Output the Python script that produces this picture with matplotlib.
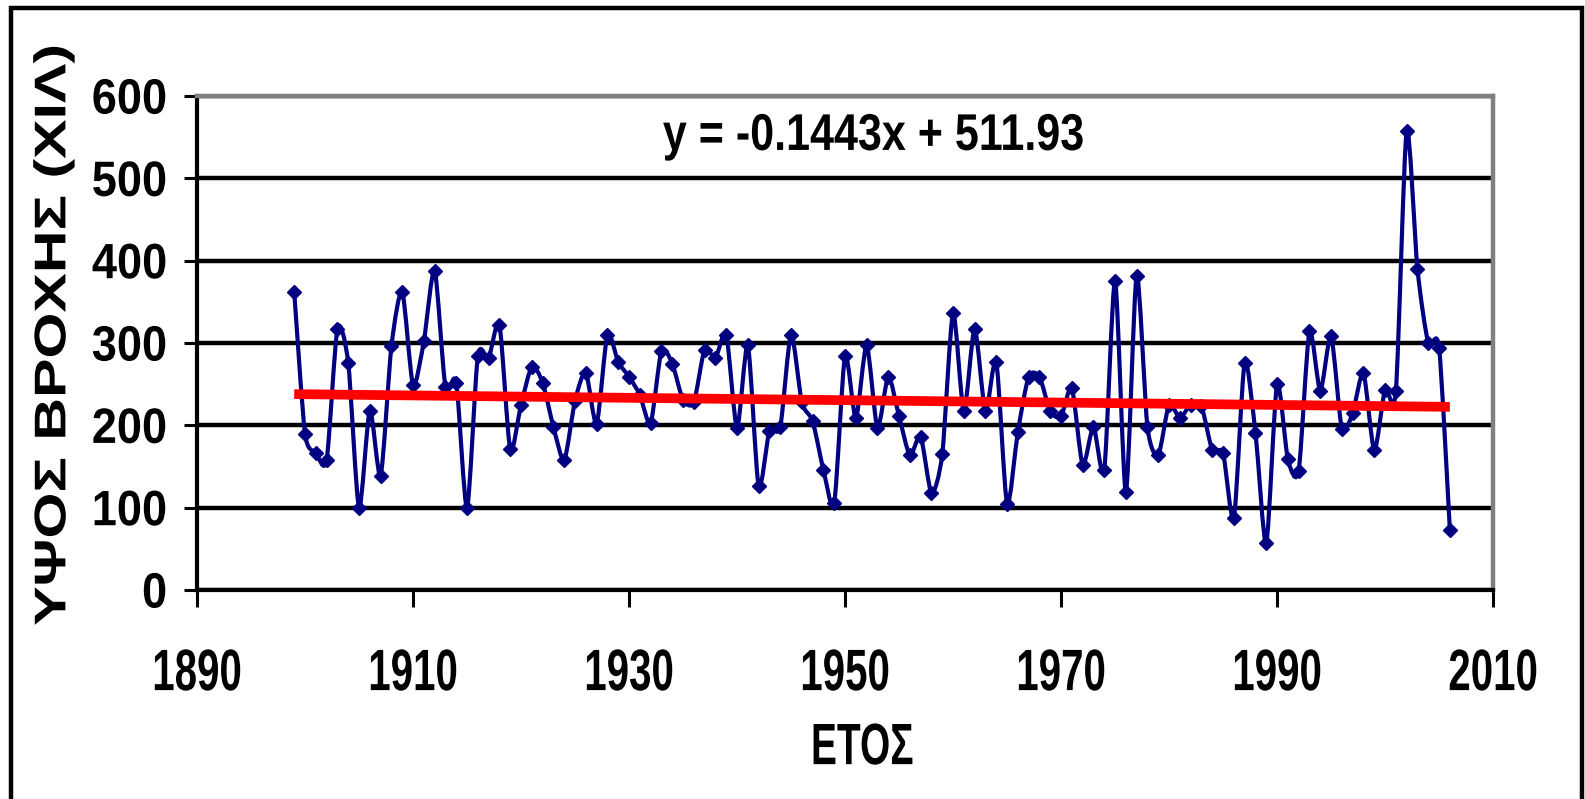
import numpy as np
import matplotlib
matplotlib.use("Agg")
import matplotlib.pyplot as plt
from matplotlib.path import Path
from matplotlib.patches import PathPatch, Rectangle
from matplotlib.patheffects import AbstractPathEffect
from matplotlib.transforms import Affine2D

# yearly rainfall
years = np.arange(1899, 2007)
rain = [362, 190, 167, 158, 317, 276, 100, 218, 139, 296,
        362, 249, 302, 388, 247, 252, 100, 284, 282, 322,
        171, 225, 271, 252, 198, 158, 230, 264, 202, 310,
        277, 259, 237, 203, 290, 275, 231, 228, 292, 282,
        310, 197, 297, 126, 193, 198, 310, 228, 205, 146,
        106, 284, 209, 297, 197, 259, 211, 164, 186, 118,
        165, 336, 217, 317, 217, 277, 105, 192, 259, 259,
        217, 211, 245, 152, 198, 146, 375, 119, 382, 198,
        164, 225, 209, 225, 223, 170, 166, 87, 276, 191,
        57, 250, 159, 145, 314, 242, 308, 196, 215, 263,
        170, 243, 242, 558, 390, 300, 294, 73]

slope = -0.1443
intercept = 511.93
trend = intercept + slope * years

x_ticks = [1890, 1910, 1930, 1950, 1970, 1990, 2010]
y_ticks = [0, 100, 200, 300, 400, 500, 600]

navy = "#000080"
fam = ["Liberation Sans", "DejaVu Sans"]


class Stretch(AbstractPathEffect):
    """stretch the glyphs vertically around their centre (the excel chart
    was pasted stretched, so its lettering is tall and narrow)"""

    def __init__(self, sy):
        super().__init__()
        self.sy = sy

    def draw_path(self, renderer, gc, tpath, affine, rgbFace=None):
        ext = tpath.get_extents(affine)
        cy = (ext.y0 + ext.y1) / 2
        st = affine + Affine2D().translate(0, -cy).scale(1, self.sy).translate(0, cy)
        renderer.draw_path(gc, tpath, st, rgbFace)


fig = plt.figure(figsize=(15.85, 7.99), dpi=100)
ax = fig.add_axes([0.1243, 0.2616, 0.9420 - 0.1243, 0.8798 - 0.2616])

ax.set_xlim(1890, 2010)
ax.set_ylim(0, 600)
ax.set_xticks(x_ticks)
ax.set_yticks(y_ticks)

ax.yaxis.grid(True, color="black", lw=3.2)
ax.set_axisbelow(True)

for s in ["left", "bottom"]:
    ax.spines[s].set_color("black")
    ax.spines[s].set_linewidth(3.0)
for s in ["top", "right"]:
    ax.spines[s].set_color("#808080")
    ax.spines[s].set_linewidth(3.2)

# smoothed line (excel style), drawn as bezier path through the points
pts = np.column_stack([years, rain]).astype(float)
n = len(pts)
verts = [pts[0]]
codes = [Path.MOVETO]
k = 1 / 8
for i in range(n - 1):
    p0 = pts[max(i - 1, 0)]
    p1 = pts[i]
    p2 = pts[i + 1]
    p3 = pts[min(i + 2, n - 1)]
    verts += [p1 + (p2 - p0) * k, p2 - (p3 - p1) * k, p2]
    codes += [Path.CURVE4] * 3
ax.add_patch(PathPatch(Path(verts, codes), facecolor="none", edgecolor=navy,
                       lw=3.0, zorder=3))
ax.plot(years, rain, "D", ms=7.5, color=navy, zorder=4)

ax.plot(years, trend, color="red", lw=7, solid_capstyle="butt", zorder=5)

ax.tick_params(axis="y", direction="out", length=9.5, width=2.2, pad=12)
ax.tick_params(axis="x", direction="out", length=12, width=2.2, pad=34)
for lab in ax.get_yticklabels():
    lab.set_family(fam)
    lab.set_fontweight("bold")
    lab.set_fontsize(32.5)
    lab.set_path_effects([Stretch(1.1)])
for lab in ax.get_xticklabels():
    lab.set_family(fam)
    lab.set_fontweight("bold")
    lab.set_fontsize(29)
    lab.set_path_effects([Stretch(1.45)])

fig.text(0.551, 0.815, "y = -0.1443x + 511.93", ha="center", va="baseline",
         family=fam, fontweight="bold", fontsize=31,
         path_effects=[Stretch(1.2)])
fig.text(0.544, 0.052, "ΕΤΟΣ", ha="center", va="baseline",
         family=fam, fontweight="bold", fontsize=28,
         path_effects=[Stretch(1.5)])
fig.text(0.034, 0.581, "ΥΨΟΣ ΒΡΟΧΗΣ (ΧΙΛ)", ha="center", va="center",
         rotation=90, family=fam, fontweight="bold", fontsize=32,
         path_effects=[Stretch(1.33)])

# outer chart border
fig.patches.append(Rectangle((11 / 1585, -0.02), (1581.5 - 11) / 1585,
                             1.02 - 7.5 / 799, transform=fig.transFigure,
                             fill=False, edgecolor="black", lw=3.2))

fig.savefig("out.png", dpi=100)
